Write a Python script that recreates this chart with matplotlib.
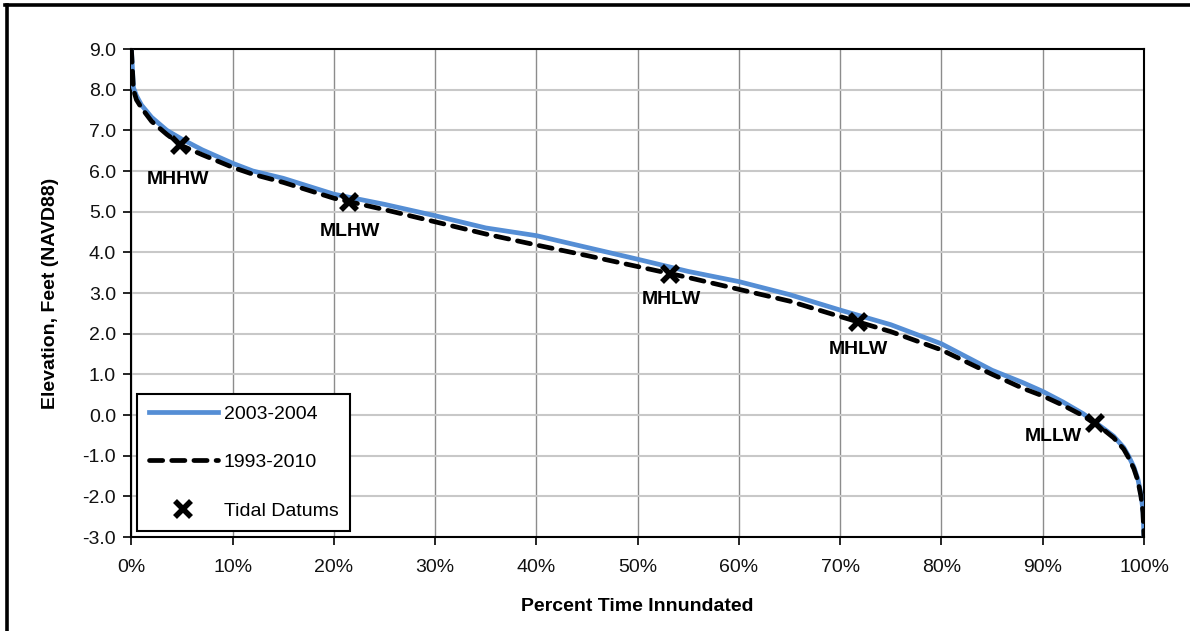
import numpy as np
import matplotlib
matplotlib.use("Agg")
import matplotlib.pyplot as plt
from matplotlib.lines import Line2D
from matplotlib.ticker import FuncFormatter, MultipleLocator

plt.rcParams['font.family'] = ['Liberation Sans', 'DejaVu Sans']

# percent of time inundated vs. water surface elevation
pct = [0, 0.2, 0.5, 1, 2, 3.5, 5, 7, 10, 12, 15, 20, 25, 30, 35, 40, 45, 50,
       55, 60, 65, 70, 75, 80, 85, 88, 90, 92, 94, 96, 97, 98, 98.5, 99, 99.4,
       99.7, 99.9, 100]
elev_0304 = [9.0, 8.05, 7.85, 7.62, 7.32, 7.0, 6.78, 6.52, 6.19, 6.0, 5.82, 5.43,
             5.18, 4.9, 4.6, 4.41, 4.12, 3.83, 3.53, 3.28, 2.96, 2.58, 2.22, 1.75,
             1.1, 0.8, 0.58, 0.32, 0.03, -0.33, -0.52, -0.8, -1.02, -1.28, -1.58,
             -1.95, -2.35, -3.0]
elev_9310 = [9.0, 8.0, 7.75, 7.55, 7.22, 6.9, 6.62, 6.4, 6.09, 5.92, 5.72, 5.33,
             5.05, 4.75, 4.45, 4.18, 3.92, 3.65, 3.38, 3.09, 2.8, 2.42, 2.05, 1.6,
             1.0, 0.66, 0.47, 0.24, -0.02, -0.36, -0.56, -0.84, -1.06, -1.32, -1.62,
             -2.0, -2.4, -3.0]

# tidal datums
datum_names = ["MHHW", "MLHW", "MHLW", "MHLW", "MLLW"]
datum_pct = [4.8, 21.5, 53.2, 71.8, 95.2]
datum_elev = [6.64, 5.24, 3.47, 2.28, -0.2]
label_pos = [(4.6, 5.78), (21.6, 4.5), (53.3, 2.83), (71.8, 1.62), (91.0, -0.52)]

fig = plt.figure(figsize=(11.9, 6.31), dpi=100)
ax = fig.add_axes([131.4 / 1190, 1 - 537 / 631, (1144 - 131.4) / 1190, (537 - 49) / 631])

ax.plot(pct, elev_0304, color="#558ED5", lw=3.4, label="2003-2004", zorder=3)
ax.plot(pct, elev_9310, color="black", lw=3.4, dashes=(2.8, 1.9),
        dash_capstyle="round", label="1993-2010", zorder=4)
ax.plot(datum_pct, datum_elev, linestyle="none", marker="x", ms=11, mew=4.0,
        color="black", label="Tidal Datums", zorder=5)

for name, (lx, ly) in zip(datum_names, label_pos):
    ax.text(lx, ly, name, fontsize=14, fontweight="bold", ha="center", va="center")

ax.set_xlim(0, 100)
ax.set_ylim(-3, 9)
ax.xaxis.set_major_locator(MultipleLocator(10))
ax.yaxis.set_major_locator(MultipleLocator(1))
ax.xaxis.set_major_formatter(FuncFormatter(lambda v, p: f"{v:.0f}%"))
ax.yaxis.set_major_formatter(FuncFormatter(lambda v, p: f"{v:.1f}"))

# vertical grid darker than horizontal
ax.xaxis.grid(True, color="#8c8c8c", lw=1.0)
ax.yaxis.grid(True, color="#c8c8c8", lw=1.5)
ax.set_axisbelow(True)

for s in ax.spines.values():
    s.set_color("black")
    s.set_linewidth(1.5)
ax.tick_params(axis="both", direction="out", length=6, width=1.2,
               labelsize=14, colors="black", labelcolor="#111111")
ax.tick_params(axis="x", pad=10)
ax.tick_params(axis="y", pad=5)

ax.set_xlabel("Percent Time Innundated", fontsize=14, fontweight="bold", labelpad=16)
ax.set_ylabel("Elevation, Feet (NAVD88)", fontsize=14, fontweight="bold", labelpad=17)

leg = ax.legend(loc="lower left", fontsize=14, frameon=True, fancybox=False,
                edgecolor="black", framealpha=1, handlelength=3.55,
                handletextpad=0.3, labelspacing=1.58, borderpad=0.6,
                borderaxespad=0.3)
leg.get_frame().set_linewidth(1.5)

# outer border of the figure
fig.add_artist(Line2D([6.5 / 1190, 6.5 / 1190], [0, 1 - 5 / 631], color="black", lw=2.6))
fig.add_artist(Line2D([5 / 1190, 1], [1 - 5 / 631, 1 - 5 / 631], color="black", lw=2.6))

fig.savefig("out.png", dpi=100, facecolor="white")
